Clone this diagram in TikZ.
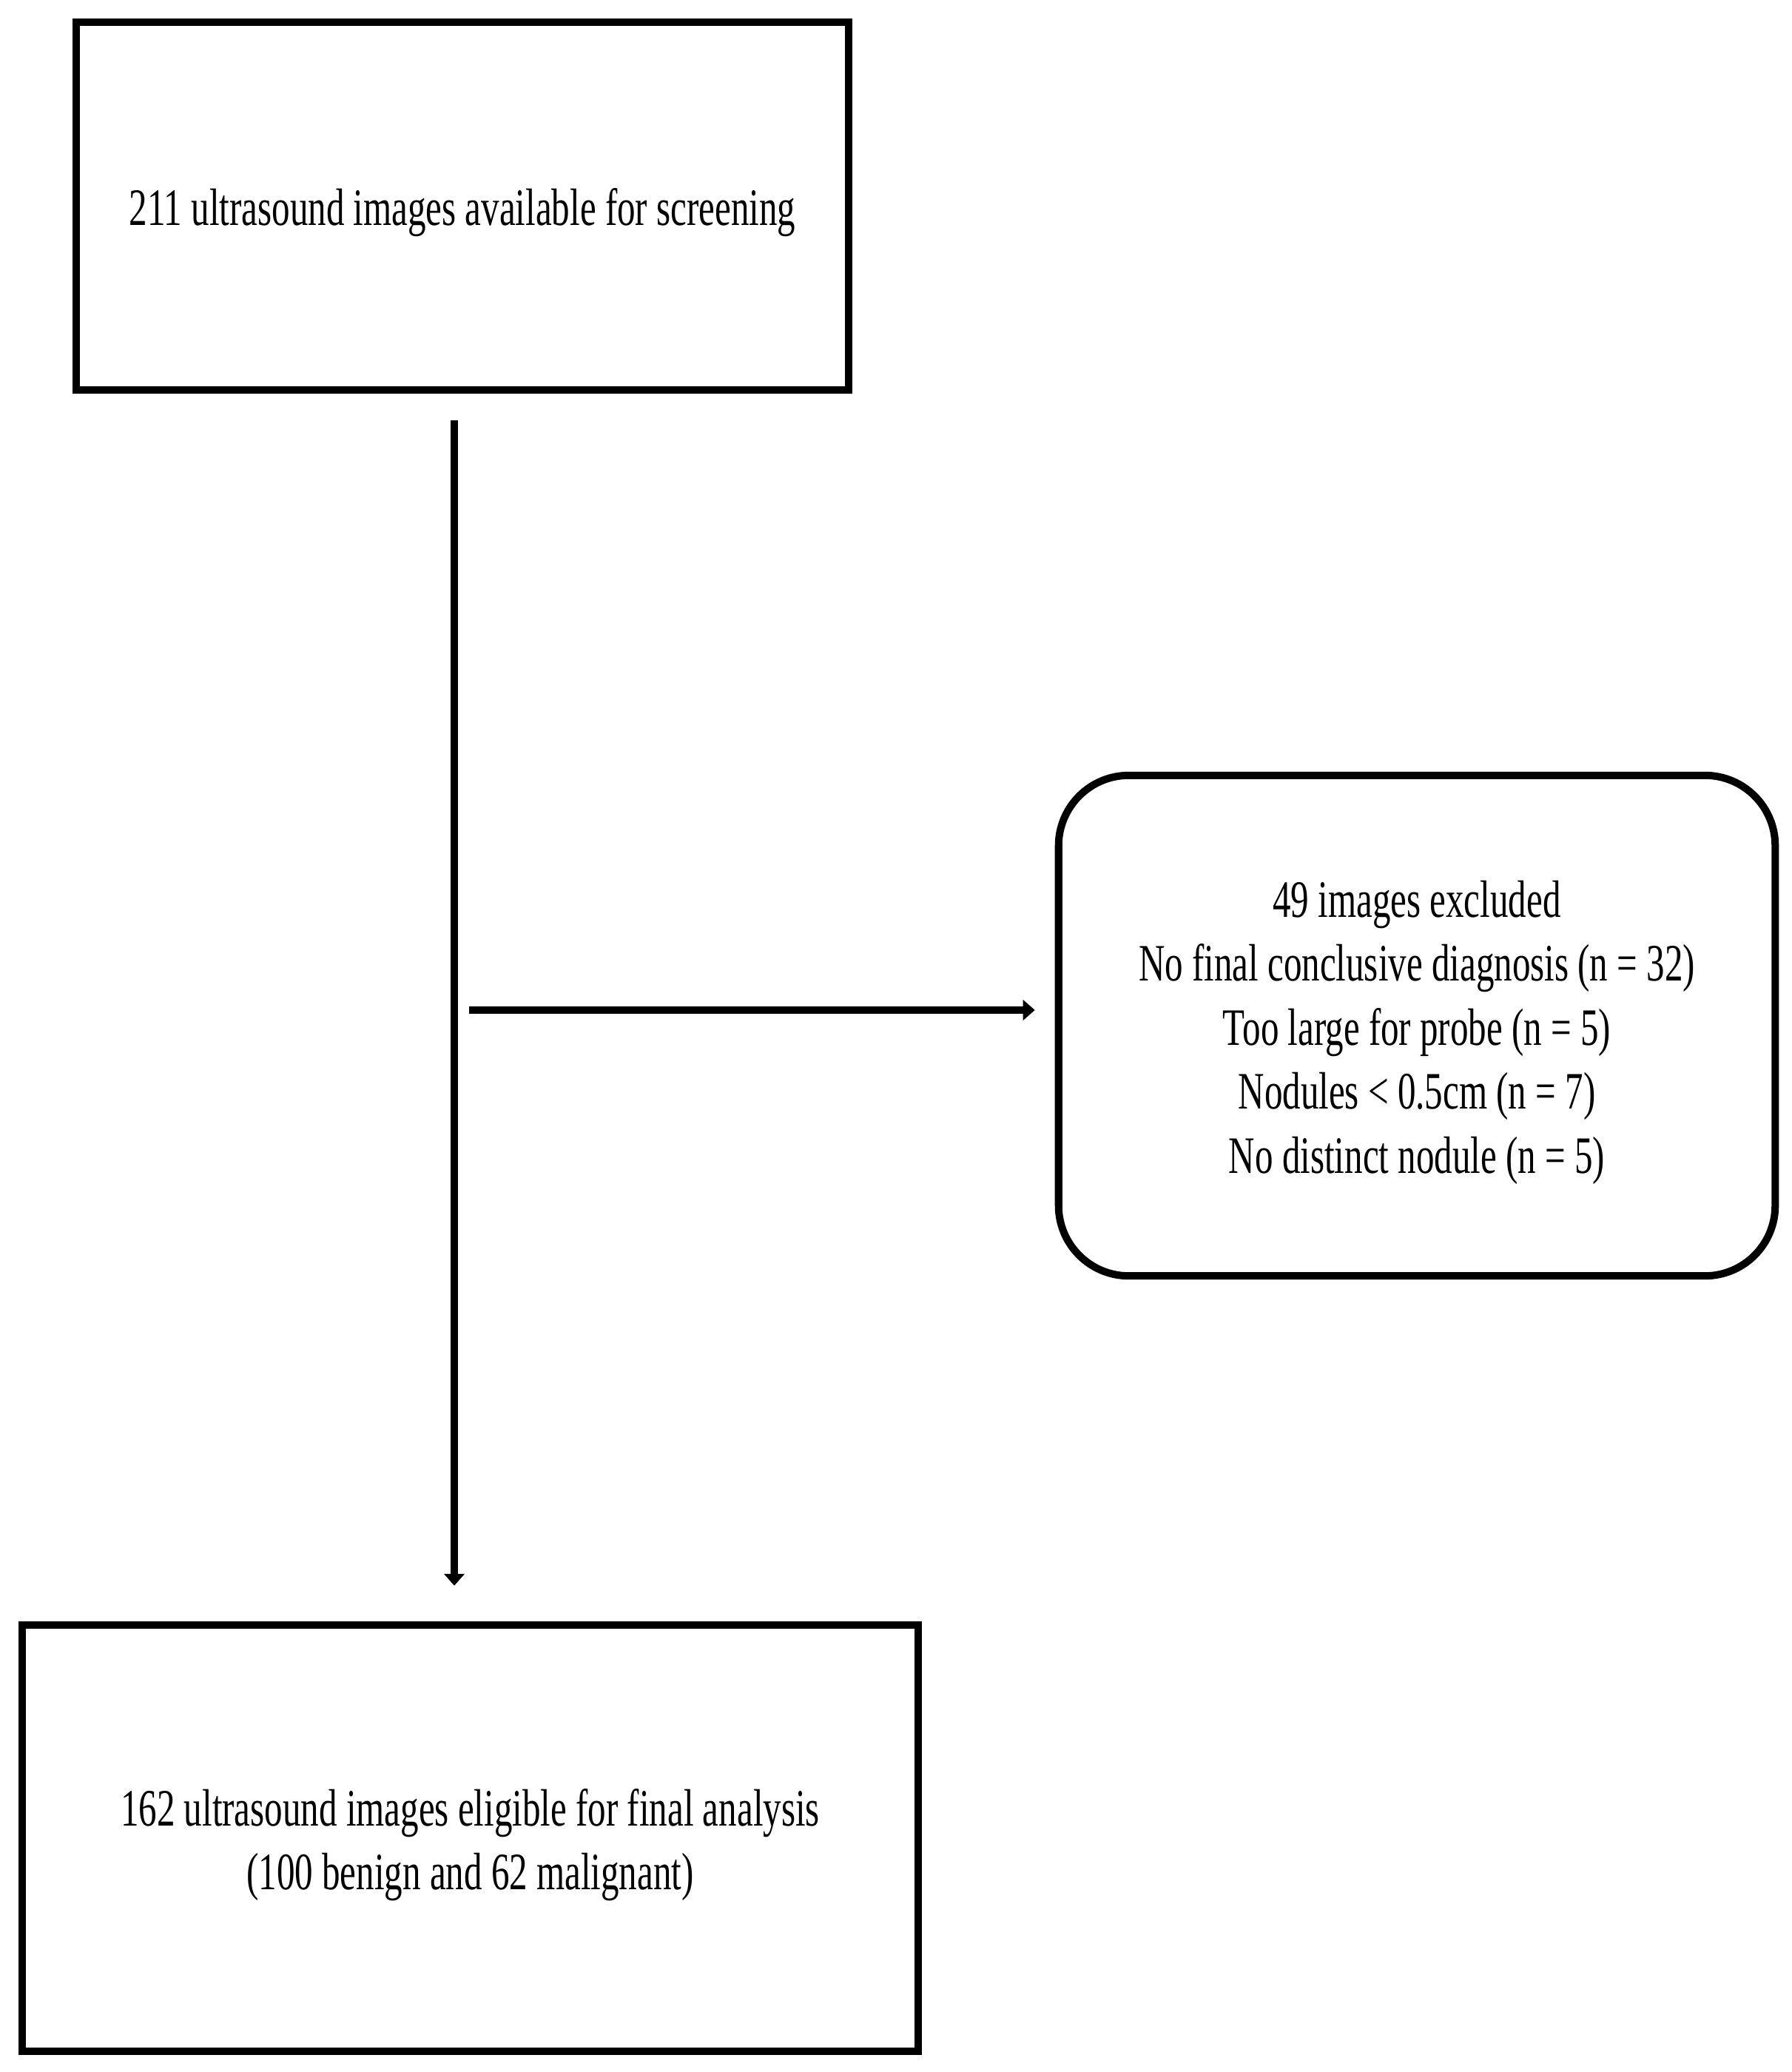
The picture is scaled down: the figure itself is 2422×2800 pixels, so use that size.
\documentclass[tikz,border=0pt]{standalone}
\usepackage{fontspec}
\setmainfont{Liberation Serif}[FakeStretch=0.69]
\usetikzlibrary{arrows.meta}
\newcommand{\boxtext}[1]{\raisebox{-0.09cm}[\height][\depth]{\setlength{\tabcolsep}{0pt}\begin{tabular}{c}#1\end{tabular}}}
\begin{document}
\begin{tikzpicture}[x=0.01cm,y=-0.01cm,
  box/.style={draw=black, line width=2.85pt, inner sep=0pt,
    font=\fontsize{20.2pt}{24.6pt}\selectfont},
  arr/.style={line width=3.1pt, -{Triangle[length=0.16cm,width=0.27cm]}}]
\useasboundingbox (0,0) rectangle (2422,2800);
\fill[white] (0,0) rectangle (2422,2800);
\node[box, minimum width=10.44cm, minimum height=4.97cm] (top) at (625,278.5)
  {\boxtext{211 ultrasound images available for screening}};
\node[box, rounded corners=0.95cm, minimum width=9.68cm, minimum height=6.76cm] (ex) at (1915,1386)
  {\boxtext{49 images excluded\\No final conclusive diagnosis (n = 32)\\Too large for probe (n = 5)\\Nodules < 0.5cm (n = 7)\\No distinct nodule (n = 5)}};
\node[box, minimum width=12.11cm, minimum height=5.76cm] (bot) at (635.5,2484)
  {\boxtext{162 ultrasound images eligible for final analysis\\(100 benign and 62 malignant)}};
\coordinate (vx) at (614,0);
\coordinate (h1) at (634,1365);
\draw[arr, shorten <=0.36cm, shorten >=0.48cm] (top.south -| vx) -- (bot.north -| vx);
\draw[arr, shorten >=0.27cm] (h1) -- (h1 -| ex.west);
\end{tikzpicture}
\end{document}
